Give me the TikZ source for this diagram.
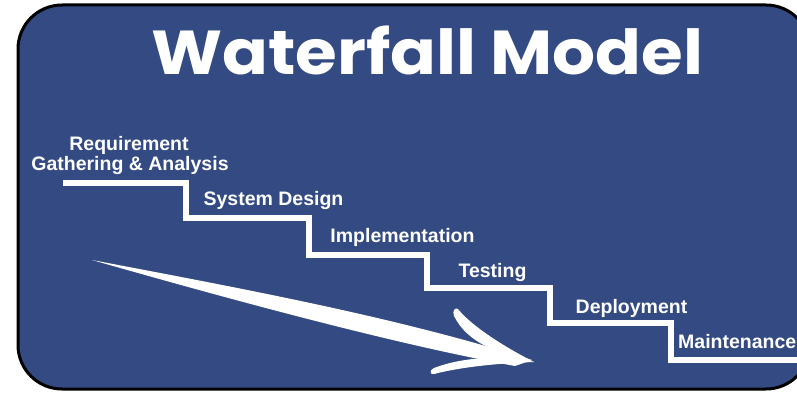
\documentclass[tikz,border=0pt]{standalone}
\usepackage{fontspec}
\setmainfont{Liberation Sans}
\newfontfamily\titlefont{Poppins}
\definecolor{wfblue}{RGB}{51,75,130}
\tikzset{
  lbl/.style={text=white, font=\bfseries\fontsize{19.5}{20}\selectfont, inner sep=0pt, anchor=base},
  stair/.style={draw=white, line width=6.5pt, line join=miter},
  swoosh/.style={fill=white, draw=none}
}
\begin{document}
\begin{tikzpicture}[x=1pt,y=-1pt]
\useasboundingbox (0,0) rectangle (797,393);
\clip (0,0) rectangle (797,393);
\fill[white] (0,0) rectangle (797,393);
\draw[fill=wfblue, draw=black, line width=3pt, rounded corners=44pt] (18,5) rectangle (810,389);
% title
\node[text=white, inner sep=0pt, anchor=base, font=\titlefont\bfseries\fontsize{62}{64}\selectfont] (title) at (427,75) {\scalebox{1.09}[1]{Waterfall Model}};
% staircase
\draw[stair] (63,183) -- (186,183) -- (186,218) -- (309,218) -- (309,255) -- (427,255) -- (427,288) -- (550,288) -- (550,323) -- (671,323) -- (671,360) -- (805,360);
% labels
\node[lbl] (req) at (129,150) {Requirement};
\node[lbl] (gath) at (130,170) {Gathering \& Analysis};
\node[lbl] (sys) at (273.5,205) {System Design};
\node[lbl] (impl) at (402.5,242) {Implementation};
\node[lbl] (test) at (492.5,277) {Testing};
\node[lbl] (depl) at (631.5,313) {Deployment};
\node[lbl, anchor=base west] (maint) at (678,348) {Maintenance};
% arrow
\fill[swoosh] (92,260) .. controls (250,290) and (400,318) .. (532,360) -- (515,366) .. controls (400,345) and (250,305) .. (92,260) -- cycle;
\fill[swoosh] (458,309) .. controls (468,322) and (495,342) .. (534,362) .. controls (500,354) and (468,344) .. (454,316) .. controls (452,311) and (455,307) .. (458,309) -- cycle;
\fill[swoosh] (534,362) .. controls (500,354) and (460,358) .. (434,368) .. controls (429,370) and (430,375) .. (434,374) .. controls (465,366) and (505,363) .. (534,362) -- cycle;
\end{tikzpicture}
\end{document}
